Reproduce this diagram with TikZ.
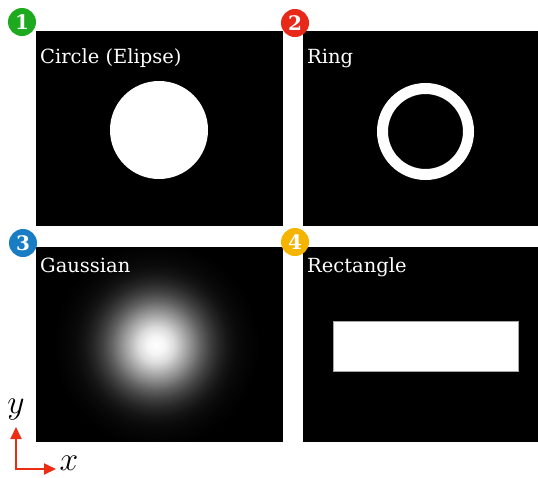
\documentclass[tikz,border=0pt]{standalone}
\usepackage{fontspec}
\setmainfont{DejaVu Serif}
\usetikzlibrary{arrows.meta}
\definecolor{bgreen}{RGB}{30,170,30}
\definecolor{bred}{RGB}{232,40,25}
\definecolor{bblue}{RGB}{25,125,195}
\definecolor{byellow}{RGB}{245,180,0}
\definecolor{axred}{RGB}{235,45,20}
\pgfdeclareradialshading{gauss}{\pgfpoint{0bp}{0bp}}{%
color(0bp)=(white);
color(2bp)=(white!96!black);
color(4bp)=(white!86!black);
color(6bp)=(white!70!black);
color(8bp)=(white!54!black);
color(10bp)=(white!38!black);
color(12bp)=(white!25!black);
color(14bp)=(white!15!black);
color(16bp)=(white!8!black);
color(18bp)=(white!4!black);
color(20bp)=(white!2!black);
color(23bp)=(black);
color(50bp)=(black)}
\begin{document}
\begin{tikzpicture}[x=1pt,y=-1pt,
  panel/.style={fill=black,draw=none,minimum width=247pt,minimum height=195pt,
    anchor=north west,inner sep=0pt,outer sep=0pt},
  lbl/.style={text=white,font=\fontsize{19.5}{19.5}\selectfont,inner sep=0pt,anchor=base west},
  badge/.style={circle,minimum size=28pt,inner sep=0pt,text=white,
    font=\fontsize{20}{20}\selectfont\bfseries},
  axis/.style={axred,line width=2pt,line join=miter,
    {Triangle[length=12pt,width=11pt]}-{Triangle[length=12pt,width=11pt]}},
  axlbl/.style={inner sep=0pt,font=\Huge,scale=1.35}]
\useasboundingbox (0,0) rectangle (538,477);
% panels
\node[panel] (p1) at (36,31) {};
\node[panel,minimum width=235pt] (p2) at (303,31) {};
\node[panel] (p3) at (36,247) {};
\node[panel,minimum width=235pt] (p4) at (303,247) {};
% shapes
\fill[white] (159,130) circle[radius=49pt];
\draw[white,line width=11pt] (425.5,131.5) circle[radius=43pt];
\begin{scope}
  \clip ([shift={(1pt,-1pt)}]p3.north west) rectangle ([shift={(-1pt,1pt)}]p3.south east);
  \shade[shading=gauss] (156,345) circle[radius=112pt];
\end{scope}
\filldraw[fill=white,draw=gray!70,line width=0.8pt] (333,321) rectangle (518,371);
% labels
\node[lbl] (l1) at (40,63) {Circle (Elipse)};
\node[lbl] (l2) at (307,63) {Ring};
\node[lbl] (l3) at (40,272) {Gaussian};
\node[lbl] (l4) at (307,272) {Rectangle};
% badges
\node[badge,fill=bgreen] (b1) at (22,22) {1};
\node[badge,fill=bred] (b2) at (295,23) {2};
\node[badge,fill=bblue] (b3) at (23,243) {3};
\node[badge,fill=byellow] (b4) at (295,242) {4};
% axes
\coordinate (o) at (16,469);
\coordinate (ay) at (16,427);
\coordinate (ax) at (56,469);
\draw[axis] (ay) -- (o) -- (ax);
\node[axlbl] (ylab) at (16,410) {$y$};
\node[axlbl] (xlab) at (69,463) {$x$};
\end{tikzpicture}
\end{document}
